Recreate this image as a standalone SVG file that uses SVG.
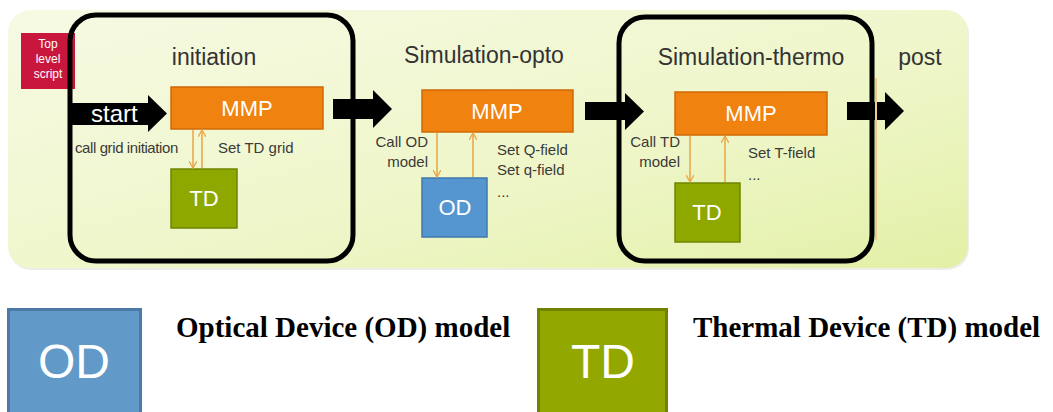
<svg xmlns="http://www.w3.org/2000/svg" width="1053" height="412" viewBox="0 0 1053 412">
<style>
.hdr{font-family:"Liberation Sans",Arial,sans-serif;font-size:23px;fill:#333;text-anchor:middle}
.lbl{font-family:"Liberation Sans",Arial,sans-serif;font-size:15px;fill:#3a3a3a}
.box{font-family:"Liberation Sans",Arial,sans-serif;font-size:22px;fill:#fff;text-anchor:middle}
.mmp{fill:#f0820f;stroke:#cf6a05;stroke-width:1.5}
.td{fill:#8ea800;stroke:#6f8500;stroke-width:1.5}
.od{fill:#5596d0;stroke:#3f78ad;stroke-width:1.5}
.frame{fill:none;stroke:#000;stroke-width:5}
.blk{fill:#000}
.oa{stroke:#e9a445;stroke-width:1.5;fill:none}
.legend{font-family:"Liberation Serif","Times New Roman",serif;font-size:29px;font-weight:bold;fill:#000}
.tls{font-family:"Liberation Sans",Arial,sans-serif;font-size:12px;fill:#fff;text-anchor:middle}
</style>
<defs>
<linearGradient id="bg" x1="0" y1="0" x2="1" y2="1">
<stop offset="0" stop-color="#f6fae4"/>
<stop offset="0.6" stop-color="#eef6c8"/>
<stop offset="1" stop-color="#e2f0a6"/>
</linearGradient>
<marker id="ah" viewBox="0 0 8 8" refX="7" refY="4" markerWidth="8" markerHeight="8" markerUnits="userSpaceOnUse" orient="auto">
<path d="M0,0 L7,4 L0,8" fill="none" stroke="#e9a445" stroke-width="1.3"/>
</marker>
</defs>

<g id="panel">
<rect x="9" y="12" width="960" height="258" rx="22" fill="#dcdcd0" opacity="0.5"/>
<rect x="8" y="10" width="960" height="258" rx="22" fill="url(#bg)"/>
</g>

<g id="top-level-script">
<rect x="21" y="33" width="54" height="56" fill="#c8163c"/>
<text class="tls" x="48" y="48">Top</text>
<text class="tls" x="48" y="63">level</text>
<text class="tls" x="48" y="78">script</text>
</g>

<g id="initiation">
<rect class="frame" x="70" y="15" width="283" height="246" rx="26"/>
<text class="hdr" x="214" y="65">initiation</text>
</g>

<g id="simulation-opto">
<text class="hdr" x="484" y="63">Simulation-opto</text>
</g>

<g id="simulation-thermo">
<rect class="frame" x="619" y="17" width="253" height="244" rx="26"/>
<text class="hdr" x="751" y="65">Simulation-thermo</text>
</g>

<g id="post">
<text class="hdr" x="920" y="65">post</text>
</g>

<g id="mmp1"><rect class="mmp" x="171" y="87" width="152" height="42"/><text class="box" x="247" y="116">MMP</text></g>
<g id="td1"><rect class="td" x="171" y="169" width="66" height="59"/><text class="box" x="204" y="206">TD</text></g>
<g id="mmp2"><rect class="mmp" x="422" y="90" width="151" height="42"/><text class="box" x="497" y="119">MMP</text></g>
<g id="od2"><rect class="od" x="422" y="178" width="65" height="59"/><text class="box" x="455" y="215">OD</text></g>
<g id="mmp3"><rect class="mmp" x="675" y="92" width="152" height="43"/><text class="box" x="751" y="121">MMP</text></g>
<g id="td3"><rect class="td" x="675" y="183" width="65" height="59"/><text class="box" x="707" y="220">TD</text></g>

<g id="connectors">
<path class="blk" d="M70,103 H148 V95 L167,113.5 L148,132 V125 H70 Z"/>
<path class="blk" d="M333,99 H373 V90 L392,109 L373,128 V119 H333 Z"/>
<path class="blk" d="M585,102 H625 V93 L644,111.5 L625,130 V120 H585 Z"/>
<path class="blk" d="M847,102 H885 V92 L904,111 L885,130 V120 H847 Z"/>
<line x1="876" y1="78" x2="876" y2="240" stroke="#eccb8c" stroke-width="2"/>
<line class="oa" x1="193" y1="130" x2="193" y2="168" marker-end="url(#ah)"/>
<line class="oa" x1="202" y1="168" x2="202" y2="130" marker-end="url(#ah)"/>
<line class="oa" x1="437" y1="133" x2="437" y2="177" marker-end="url(#ah)"/>
<line class="oa" x1="473" y1="177" x2="473" y2="133" marker-end="url(#ah)"/>
<line class="oa" x1="690" y1="136" x2="690" y2="182" marker-end="url(#ah)"/>
<line class="oa" x1="725" y1="182" x2="725" y2="136" marker-end="url(#ah)"/>
</g>

<g id="labels">
<text x="91" y="122" font-family="Liberation Sans,Arial,sans-serif" font-size="24" fill="#fff">start</text>
<text class="lbl" x="75" y="153" letter-spacing="-0.4">call grid initiation</text>
<text class="lbl" x="218" y="153">Set TD grid</text>
<text class="lbl" x="428" y="147" text-anchor="end">Call OD</text>
<text class="lbl" x="428" y="167" text-anchor="end">model</text>
<text class="lbl" x="497" y="155">Set Q-field</text>
<text class="lbl" x="497" y="175">Set q-field</text>
<text class="lbl" x="497" y="197" fill="#999">...</text>
<text class="lbl" x="680" y="147" text-anchor="end">Call TD</text>
<text class="lbl" x="680" y="167" text-anchor="end">model</text>
<text class="lbl" x="748" y="158">Set T-field</text>
<text class="lbl" x="748" y="180" fill="#999">...</text>
</g>

<g id="legend-od">
<rect x="8.5" y="309.5" width="132" height="110" fill="#6199c8" stroke="#4a7aa5" stroke-width="3"/>
<text x="74" y="378" font-family="Liberation Sans,Arial,sans-serif" font-size="48" fill="#fff" text-anchor="middle">OD</text>
<text class="legend" x="176" y="337">Optical Device (OD) model</text>
</g>
<g id="legend-td">
<rect x="538.5" y="309.5" width="128" height="110" fill="#92a800" stroke="#718200" stroke-width="3"/>
<text x="603" y="378" font-family="Liberation Sans,Arial,sans-serif" font-size="48" fill="#fff" text-anchor="middle">TD</text>
<text class="legend" x="693" y="337" font-size="28">Thermal Device (TD) model</text>
</g>
</svg>
